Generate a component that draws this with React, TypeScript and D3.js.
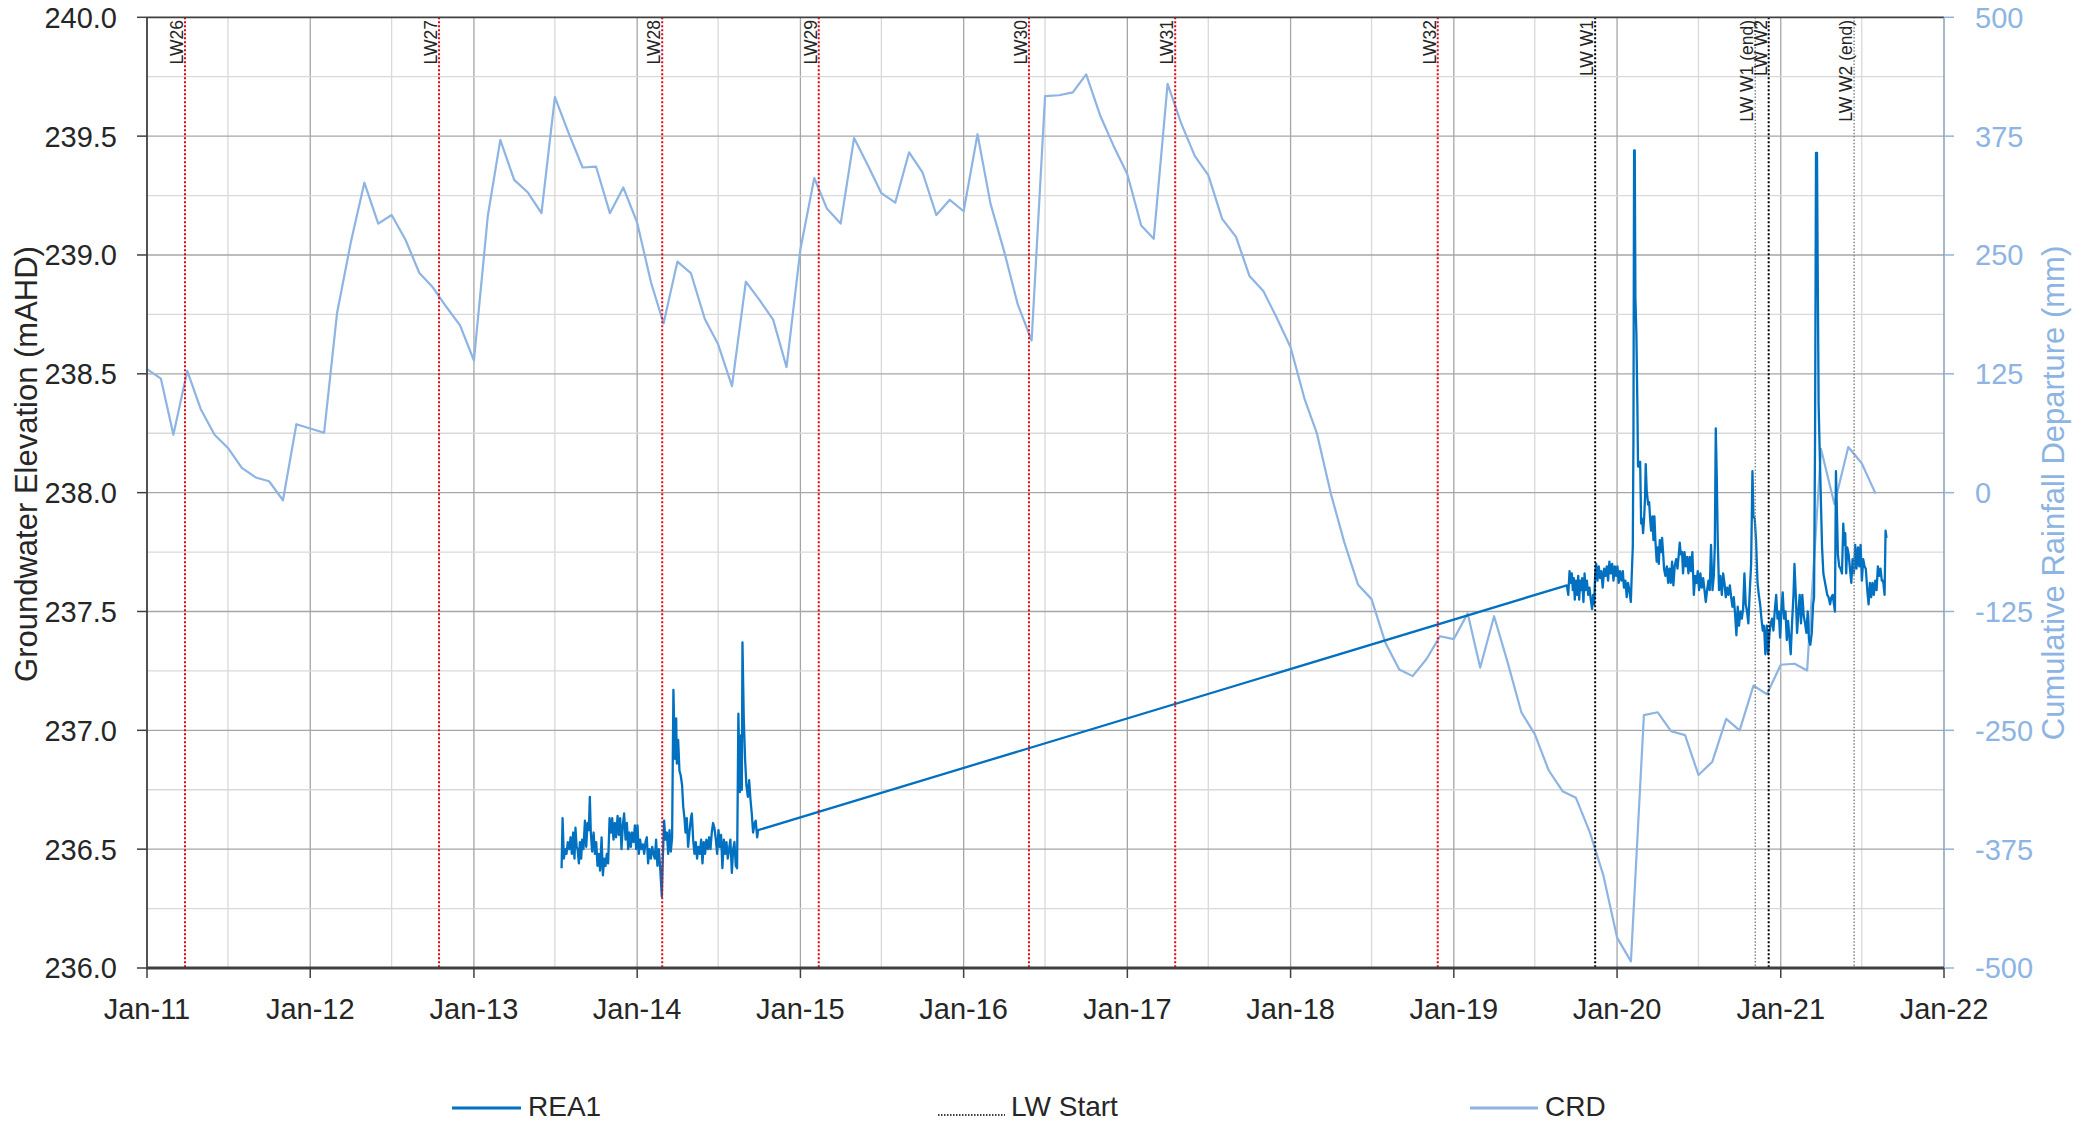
import React from "react";
import * as d3 from "d3";

// monthly cumulative rainfall departure (mm), right axis
const crdSeries: [string, number][] = [
  ["2011-01", 130], ["2011-02", 120], ["2011-03", 61], ["2011-04", 128], ["2011-05", 88], ["2011-06", 61],
  ["2011-07", 47], ["2011-08", 26], ["2011-09", 16], ["2011-10", 12], ["2011-11", -8], ["2011-12", 72],
  ["2012-02", 63], ["2012-03", 189], ["2012-04", 264], ["2012-05", 326], ["2012-06", 283],
  ["2012-07", 292], ["2012-08", 266], ["2012-09", 231], ["2012-10", 216], ["2012-11", 195], ["2012-12", 176],
  ["2013-01", 139], ["2013-02", 291], ["2013-03", 371], ["2013-04", 329], ["2013-05", 316], ["2013-06", 294],
  ["2013-07", 416], ["2013-08", 378], ["2013-09", 342], ["2013-10", 343], ["2013-11", 294], ["2013-12", 321],
  ["2014-01", 284], ["2014-02", 221], ["2014-03", 178], ["2014-04", 243], ["2014-05", 231], ["2014-06", 183],
  ["2014-07", 156], ["2014-08", 112], ["2014-09", 222], ["2014-10", 203], ["2014-11", 182], ["2014-12", 132],
  ["2015-01", 256], ["2015-02", 331], ["2015-03", 299], ["2015-04", 283], ["2015-05", 373], ["2015-06", 344],
  ["2015-07", 315], ["2015-08", 305], ["2015-09", 358], ["2015-10", 337], ["2015-11", 292], ["2015-12", 308],
  ["2016-01", 296], ["2016-02", 377], ["2016-03", 304], ["2016-04", 253], ["2016-05", 198], ["2016-06", 160],
  ["2016-07", 417], ["2016-08", 418], ["2016-09", 421], ["2016-10", 440], ["2016-11", 397], ["2016-12", 365],
  ["2017-01", 335], ["2017-02", 281], ["2017-03", 267], ["2017-04", 430], ["2017-05", 389], ["2017-06", 354],
  ["2017-07", 334], ["2017-08", 288], ["2017-09", 269], ["2017-10", 228], ["2017-11", 212], ["2017-12", 184],
  ["2018-01", 153], ["2018-02", 99], ["2018-03", 62], ["2018-04", -1], ["2018-05", -52], ["2018-06", -97],
  ["2018-07", -112], ["2018-08", -158], ["2018-09", -186], ["2018-10", -193], ["2018-11", -175], ["2018-12", -151],
  ["2019-01", -154], ["2019-02", -127], ["2019-03", -184], ["2019-04", -130], ["2019-05", -178], ["2019-06", -231],
  ["2019-07", -254], ["2019-08", -292], ["2019-09", -314], ["2019-10", -321], ["2019-11", -357], ["2019-12", -402],
  ["2020-01", -468], ["2020-02", -493], ["2020-03", -234], ["2020-04", -231], ["2020-05", -251], ["2020-06", -255],
  ["2020-07", -297], ["2020-08", -283], ["2020-09", -238], ["2020-10", -250], ["2020-11", -203], ["2020-12", -212],
  ["2021-01", -181], ["2021-02", -180], ["2021-03", -187], ["2021-04", 46], ["2021-05", -12], ["2021-06", 48],
  ["2021-07", 31], ["2021-08", -1],
];

// REA1 logger, [decimal year, mAHD]
const rea1Series: [number, number][] = [
  [2013.537,236.42],[2013.543,236.63],[2013.551,236.46],[2013.559,236.50],[2013.567,236.48],[2013.575,236.53],
  [2013.584,236.50],[2013.592,236.55],[2013.600,236.48],[2013.608,236.57],[2013.616,236.46],[2013.622,236.59],
  [2013.629,236.51],[2013.635,236.50],[2013.643,236.44],[2013.649,236.53],[2013.657,236.46],[2013.663,236.54],
  [2013.671,236.50],[2013.680,236.62],[2013.688,236.51],[2013.696,236.61],[2013.704,236.58],[2013.710,236.72],
  [2013.716,236.57],[2013.724,236.49],[2013.733,236.57],[2013.741,236.48],[2013.749,236.53],[2013.757,236.43],
  [2013.765,236.48],[2013.773,236.41],[2013.782,236.55],[2013.790,236.39],[2013.798,236.46],[2013.806,236.43],
  [2013.814,236.48],[2013.822,236.44],[2013.831,236.63],[2013.839,236.57],[2013.847,236.63],[2013.855,236.54],
  [2013.863,236.61],[2013.871,236.55],[2013.880,236.64],[2013.888,236.56],[2013.896,236.63],[2013.904,236.50],
  [2013.912,236.60],[2013.920,236.65],[2013.929,236.54],[2013.937,236.61],[2013.945,236.50],[2013.953,236.57],
  [2013.961,236.51],[2013.969,236.57],[2013.978,236.53],[2013.986,236.60],[2013.994,236.50],[2014.002,236.60],
  [2014.010,236.48],[2014.018,236.54],[2014.026,236.50],[2014.035,236.52],[2014.043,236.48],[2014.051,236.53],
  [2014.059,236.55],[2014.067,236.44],[2014.075,236.50],[2014.084,236.46],[2014.092,236.51],[2014.100,236.48],
  [2014.108,236.46],[2014.116,236.54],[2014.124,236.43],[2014.133,236.50],[2014.141,236.42],[2014.151,236.30],
  [2014.157,236.46],[2014.165,236.62],[2014.173,236.54],[2014.182,236.57],[2014.190,236.48],[2014.198,236.58],
  [2014.206,236.49],[2014.214,236.55],[2014.222,237.17],[2014.231,236.88],[2014.239,237.05],[2014.243,236.86],
  [2014.251,236.96],[2014.259,236.83],[2014.267,236.81],[2014.275,236.77],[2014.282,236.68],[2014.290,236.63],
  [2014.296,236.57],[2014.304,236.63],[2014.312,236.51],[2014.320,236.57],[2014.329,236.63],[2014.335,236.65],
  [2014.343,236.54],[2014.351,236.48],[2014.359,236.53],[2014.367,236.46],[2014.375,236.51],[2014.384,236.48],
  [2014.392,236.54],[2014.400,236.44],[2014.408,236.53],[2014.416,236.48],[2014.424,236.54],[2014.433,236.50],
  [2014.441,236.55],[2014.449,236.50],[2014.457,236.57],[2014.465,236.61],[2014.473,236.59],[2014.482,236.54],
  [2014.490,236.48],[2014.498,236.58],[2014.506,236.51],[2014.514,236.56],[2014.522,236.42],[2014.531,236.54],
  [2014.539,236.48],[2014.547,236.53],[2014.555,236.46],[2014.563,236.50],[2014.571,236.54],[2014.580,236.40],
  [2014.588,236.50],[2014.596,236.53],[2014.604,236.43],[2014.612,236.42],[2014.620,237.07],[2014.629,236.74],
  [2014.637,236.98],[2014.641,236.75],[2014.645,237.37],[2014.653,237.05],[2014.661,236.88],[2014.669,236.77],
  [2014.678,236.72],[2014.686,236.79],[2014.694,236.71],[2014.702,236.65],[2014.710,236.57],[2014.720,236.61],
  [2014.726,236.62],[2014.735,236.55],[2014.741,236.58],
  [2019.692,237.61],[2019.701,237.57],[2019.709,237.67],[2019.717,237.62],[2019.723,237.66],[2019.729,237.59],
  [2019.735,237.64],[2019.741,237.55],[2019.748,237.63],[2019.756,237.57],[2019.762,237.65],[2019.768,237.55],
  [2019.774,237.63],[2019.780,237.59],[2019.786,237.64],[2019.794,237.54],[2019.801,237.66],[2019.807,237.59],
  [2019.815,237.63],[2019.823,237.57],[2019.831,237.60],[2019.839,237.55],[2019.847,237.51],[2019.853,237.57],
  [2019.860,237.53],[2019.866,237.66],[2019.872,237.70],[2019.880,237.63],[2019.888,237.69],[2019.896,237.64],
  [2019.904,237.67],[2019.912,237.60],[2019.921,237.68],[2019.929,237.65],[2019.937,237.69],[2019.945,237.63],
  [2019.953,237.71],[2019.961,237.66],[2019.970,237.70],[2019.978,237.63],[2019.986,237.69],[2019.994,237.65],
  [2020.002,237.69],[2020.010,237.62],[2020.018,237.67],[2020.027,237.63],[2020.035,237.67],[2020.042,237.60],
  [2020.051,237.63],[2020.059,237.56],[2020.067,237.62],[2020.075,237.59],[2020.084,237.54],[2020.090,237.66],
  [2020.096,237.77],[2020.100,238.22],[2020.104,239.44],[2020.108,239.44],[2020.112,238.82],[2020.118,238.67],
  [2020.124,238.37],[2020.128,238.11],[2020.135,238.11],[2020.141,238.13],[2020.147,237.87],[2020.153,237.89],
  [2020.159,237.83],[2020.165,237.89],[2020.171,237.98],[2020.175,238.12],[2020.181,238.01],[2020.190,237.95],
  [2020.196,237.96],[2020.202,237.89],[2020.208,237.84],[2020.216,237.90],[2020.222,237.80],[2020.228,237.90],
  [2020.234,237.80],[2020.242,237.71],[2020.249,237.77],[2020.255,237.70],[2020.261,237.80],[2020.269,237.75],
  [2020.275,237.81],[2020.281,237.75],[2020.287,237.68],[2020.295,237.65],[2020.304,237.69],[2020.312,237.62],
  [2020.320,237.68],[2020.328,237.62],[2020.336,237.71],[2020.344,237.61],[2020.352,237.69],[2020.361,237.72],
  [2020.369,237.68],[2020.377,237.74],[2020.383,237.79],[2020.389,237.74],[2020.397,237.75],[2020.403,237.66],
  [2020.412,237.75],[2020.420,237.69],[2020.428,237.73],[2020.436,237.66],[2020.444,237.73],[2020.452,237.67],
  [2020.460,237.75],[2020.469,237.57],[2020.477,237.65],[2020.485,237.62],[2020.493,237.67],[2020.501,237.59],
  [2020.509,237.66],[2020.517,237.60],[2020.526,237.64],[2020.534,237.59],[2020.542,237.54],[2020.550,237.59],
  [2020.558,237.63],[2020.566,237.59],[2020.574,237.78],[2020.583,237.59],[2020.591,237.65],[2020.597,237.77],
  [2020.603,238.27],[2020.609,238.07],[2020.615,237.80],[2020.623,237.59],[2020.631,237.65],[2020.640,237.57],
  [2020.648,237.66],[2020.656,237.62],[2020.664,237.56],[2020.672,237.60],[2020.680,237.57],[2020.689,237.61],
  [2020.697,237.56],[2020.705,237.52],[2020.713,237.56],[2020.721,237.49],[2020.729,237.40],[2020.737,237.52],
  [2020.745,237.44],[2020.754,237.50],[2020.762,237.47],[2020.770,237.51],[2020.778,237.66],[2020.786,237.53],
  [2020.794,237.50],[2020.802,237.45],[2020.811,237.59],[2020.819,237.70],[2020.827,238.09],[2020.833,237.90],
  [2020.841,237.89],[2020.849,237.80],[2020.858,237.62],[2020.866,237.57],[2020.874,237.53],[2020.882,237.47],
  [2020.890,237.42],[2020.898,237.44],[2020.906,237.32],[2020.915,237.44],[2020.923,237.32],[2020.931,237.41],
  [2020.939,237.45],[2020.947,237.47],[2020.955,237.42],[2020.963,237.50],[2020.972,237.57],[2020.980,237.47],
  [2020.988,237.50],[2020.996,237.39],[2021.004,237.51],[2021.012,237.58],[2021.020,237.47],[2021.029,237.50],
  [2021.037,237.38],[2021.045,237.46],[2021.053,237.39],[2021.061,237.32],[2021.069,237.45],[2021.078,237.57],
  [2021.084,237.70],[2021.092,237.57],[2021.100,237.41],[2021.108,237.50],[2021.116,237.57],[2021.124,237.45],
  [2021.132,237.57],[2021.141,237.48],[2021.149,237.45],[2021.157,237.41],[2021.165,237.50],[2021.173,237.38],
  [2021.181,237.36],[2021.190,237.41],[2021.198,237.53],[2021.204,237.56],[2021.210,238.22],[2021.216,239.43],
  [2021.222,239.43],[2021.226,238.97],[2021.232,238.37],[2021.238,238.19],[2021.245,237.99],[2021.253,237.77],
  [2021.261,237.66],[2021.269,237.63],[2021.277,237.60],[2021.285,237.57],[2021.293,237.56],[2021.302,237.53],
  [2021.310,237.56],[2021.318,237.57],[2021.326,237.53],[2021.332,237.50],[2021.338,238.09],[2021.344,237.92],
  [2021.350,237.74],[2021.358,237.69],[2021.366,237.68],[2021.375,237.66],[2021.383,237.87],[2021.389,237.78],
  [2021.395,237.83],[2021.401,237.66],[2021.407,237.77],[2021.416,237.74],[2021.424,237.68],[2021.432,237.62],
  [2021.440,237.72],[2021.448,237.66],[2021.456,237.78],[2021.464,237.68],[2021.473,237.77],[2021.481,237.69],
  [2021.489,237.78],[2021.497,237.63],[2021.505,237.72],[2021.513,237.69],[2021.521,237.68],[2021.530,237.59],
  [2021.538,237.53],[2021.546,237.62],[2021.554,237.56],[2021.562,237.62],[2021.570,237.57],[2021.579,237.63],
  [2021.587,237.59],[2021.595,237.69],[2021.603,237.65],[2021.611,237.68],[2021.619,237.63],[2021.627,237.63],
  [2021.636,237.57],[2021.642,237.84],[2021.648,237.81],
];

// longwall start / end markers
const lwLabels = ["LW26", "LW27", "LW28", "LW29", "LW30", "LW31", "LW32", "LW W1", "LW W1 (end)", "LW W2", "LW W2 (end)"];
const lwDates = ["2011-03-27", "2012-10-15", "2014-02-26", "2015-02-11", "2016-05-26", "2017-04-18", "2018-11-26",
  "2019-11-13", "2020-11-05", "2020-12-05", "2021-06-14"];
const lwKinds = ["red", "red", "red", "red", "red", "red", "red", "black", "end", "black", "end"];

const leftTicks = [236, 236.5, 237, 237.5, 238, 238.5, 239, 239.5, 240];
const rightTicks = [-500, -375, -250, -125, 0, 125, 250, 375, 500];

const W = 2095;
const H = 1125;
const plot = { left: 147, right: 1944, top: 17.3, bottom: 968 };
const FONT = "'Liberation Sans', Arial, sans-serif";
const REA_COLOR = "#0070c0";
const CRD_COLOR = "#8db4e2";

function fromDecimalYear(t: number) {
  const y = Math.floor(t);
  const a = new Date(y, 0, 1).getTime();
  const b = new Date(y + 1, 0, 1).getTime();
  return new Date(a + (t - y) * (b - a));
}

const lwStyle: Record<string, { stroke: string; width: number; dash: string }> = {
  red: { stroke: "#e8000b", width: 2, dash: "2 2" },
  black: { stroke: "#000000", width: 2, dash: "2 2" },
  end: { stroke: "#7f7f7f", width: 1.4, dash: "1.5 1.8" },
};

export default function App() {
  const x = d3.scaleTime()
    .domain([new Date(2011, 0, 1), new Date(2022, 0, 1)])
    .range([plot.left, plot.right]);
  const yL = d3.scaleLinear().domain([236, 240]).range([plot.bottom, plot.top]);
  const yR = d3.scaleLinear().domain([-500, 500]).range([plot.bottom, plot.top]);

  const years = d3.timeYear.range(new Date(2011, 0, 1), new Date(2022, 0, 2));
  const halfYears = d3.timeMonth.every(6)!.range(new Date(2011, 6, 1), new Date(2022, 0, 1));
  const hLines = d3.range(236.25, 240, 0.25);
  const fmtX = d3.timeFormat("%b-%y");
  const parseMonth = d3.timeParse("%Y-%m");
  const parseDay = d3.timeParse("%Y-%m-%d");

  const crdLine = d3.line<[string, number]>()
    .x(d => x(parseMonth(d[0])!))
    .y(d => yR(d[1]));
  const reaLine = d3.line<[number, number]>()
    .x(d => x(fromDecimalYear(d[0])))
    .y(d => yL(d[1]));

  return (
    <svg width={W} height={H} style={{ position: "absolute", left: 0, top: 0, background: "#fff" }}
      fontFamily={FONT}>
      {/* grid */}
      {halfYears.map((d, i) => (
        <line key={"v" + i} x1={x(d)} x2={x(d)} y1={plot.top} y2={plot.bottom}
          stroke={d.getMonth() === 0 ? "#a6a6a6" : "#d9d9d9"} strokeWidth={1.3} />
      ))}
      {hLines.map((v, i) => (
        <line key={"h" + i} x1={plot.left} x2={plot.right} y1={yL(v)} y2={yL(v)}
          stroke={Math.abs(v * 2 - Math.round(v * 2)) < 1e-6 ? "#a6a6a6" : "#d9d9d9"} strokeWidth={1.3} />
      ))}

      {/* series */}
      <path d={crdLine(crdSeries) || ""} fill="none" stroke={CRD_COLOR} strokeWidth={2.2} strokeLinejoin="round" />
      <path d={reaLine(rea1Series) || ""} fill="none" stroke={REA_COLOR} strokeWidth={2.3} strokeLinejoin="round" />

      {/* longwall markers */}
      {lwDates.map((s, i) => {
        const xp = x(parseDay(s)!);
        const st = lwStyle[lwKinds[i]];
        return (
          <g key={"lw" + i}>
            <line x1={xp} x2={xp} y1={plot.top} y2={plot.bottom} stroke={st.stroke}
              strokeWidth={st.width} strokeDasharray={st.dash} />
            <text transform={`translate(${xp - 2},20) rotate(-90)`} textAnchor="end"
              fontSize={17.5} fill="#262626">{lwLabels[i]}</text>
          </g>
        );
      })}

      {/* frame and axes */}
      <line x1={plot.left} x2={plot.right} y1={plot.top} y2={plot.top} stroke="#404040" strokeWidth={1.8} />
      <line x1={plot.right} x2={plot.right} y1={plot.top} y2={plot.bottom} stroke="#8497b0" strokeWidth={1.4} />
      <line x1={plot.left} x2={plot.left} y1={plot.top} y2={plot.bottom + 1.5} stroke="#404040" strokeWidth={1.8} />
      <line x1={plot.left} x2={plot.right} y1={plot.bottom} y2={plot.bottom} stroke="#404040" strokeWidth={3} />

      {leftTicks.map(v => (
        <g key={"lt" + v}>
          <line x1={plot.left - 10} x2={plot.left} y1={yL(v)} y2={yL(v)} stroke="#404040" strokeWidth={1.5} />
          <text x={117} y={yL(v)} dy="0.36em" textAnchor="end" fontSize={29} fill="#262626">
            {d3.format(".1f")(v)}
          </text>
        </g>
      ))}
      {rightTicks.map(v => (
        <g key={"rt" + v}>
          <line x1={plot.right} x2={plot.right + 10} y1={yR(v)} y2={yR(v)} stroke={CRD_COLOR} strokeWidth={1.5} />
          <text x={1975} y={yR(v)} dy="0.36em" textAnchor="start" fontSize={29} fill={CRD_COLOR}>
            {String(v)}
          </text>
        </g>
      ))}
      {years.map((d, i) => (
        <g key={"xt" + i}>
          <line x1={x(d)} x2={x(d)} y1={plot.bottom} y2={plot.bottom + 10} stroke="#404040" strokeWidth={1.5} />
          <text x={x(d)} y={1019} textAnchor="middle" fontSize={29} fill="#262626">{fmtX(d)}</text>
        </g>
      ))}

      {/* axis titles */}
      <text transform="translate(37,464) rotate(-90)" textAnchor="middle" fontSize={31} fill="#262626">
        Groundwater Elevation (mAHD)
      </text>
      <text transform="translate(2064,493) rotate(-90)" textAnchor="middle" fontSize={31} fill={CRD_COLOR}>
        Cumulative Rainfall Departure (mm)
      </text>

      {/* legend */}
      <line x1={452} x2={521} y1={1108} y2={1108} stroke={REA_COLOR} strokeWidth={3} />
      <text x={528} y={1116} fontSize={28} fill="#262626">REA1</text>
      <line x1={938} x2={1005} y1={1115} y2={1115} stroke="#000" strokeWidth={1.3} strokeDasharray="1.5 1.5" />
      <text x={1011} y={1116} fontSize={28} fill="#262626">LW Start</text>
      <line x1={1470} x2={1538} y1={1108} y2={1108} stroke={CRD_COLOR} strokeWidth={3} />
      <text x={1545} y={1116} fontSize={28} fill="#262626">CRD</text>
    </svg>
  );
}
